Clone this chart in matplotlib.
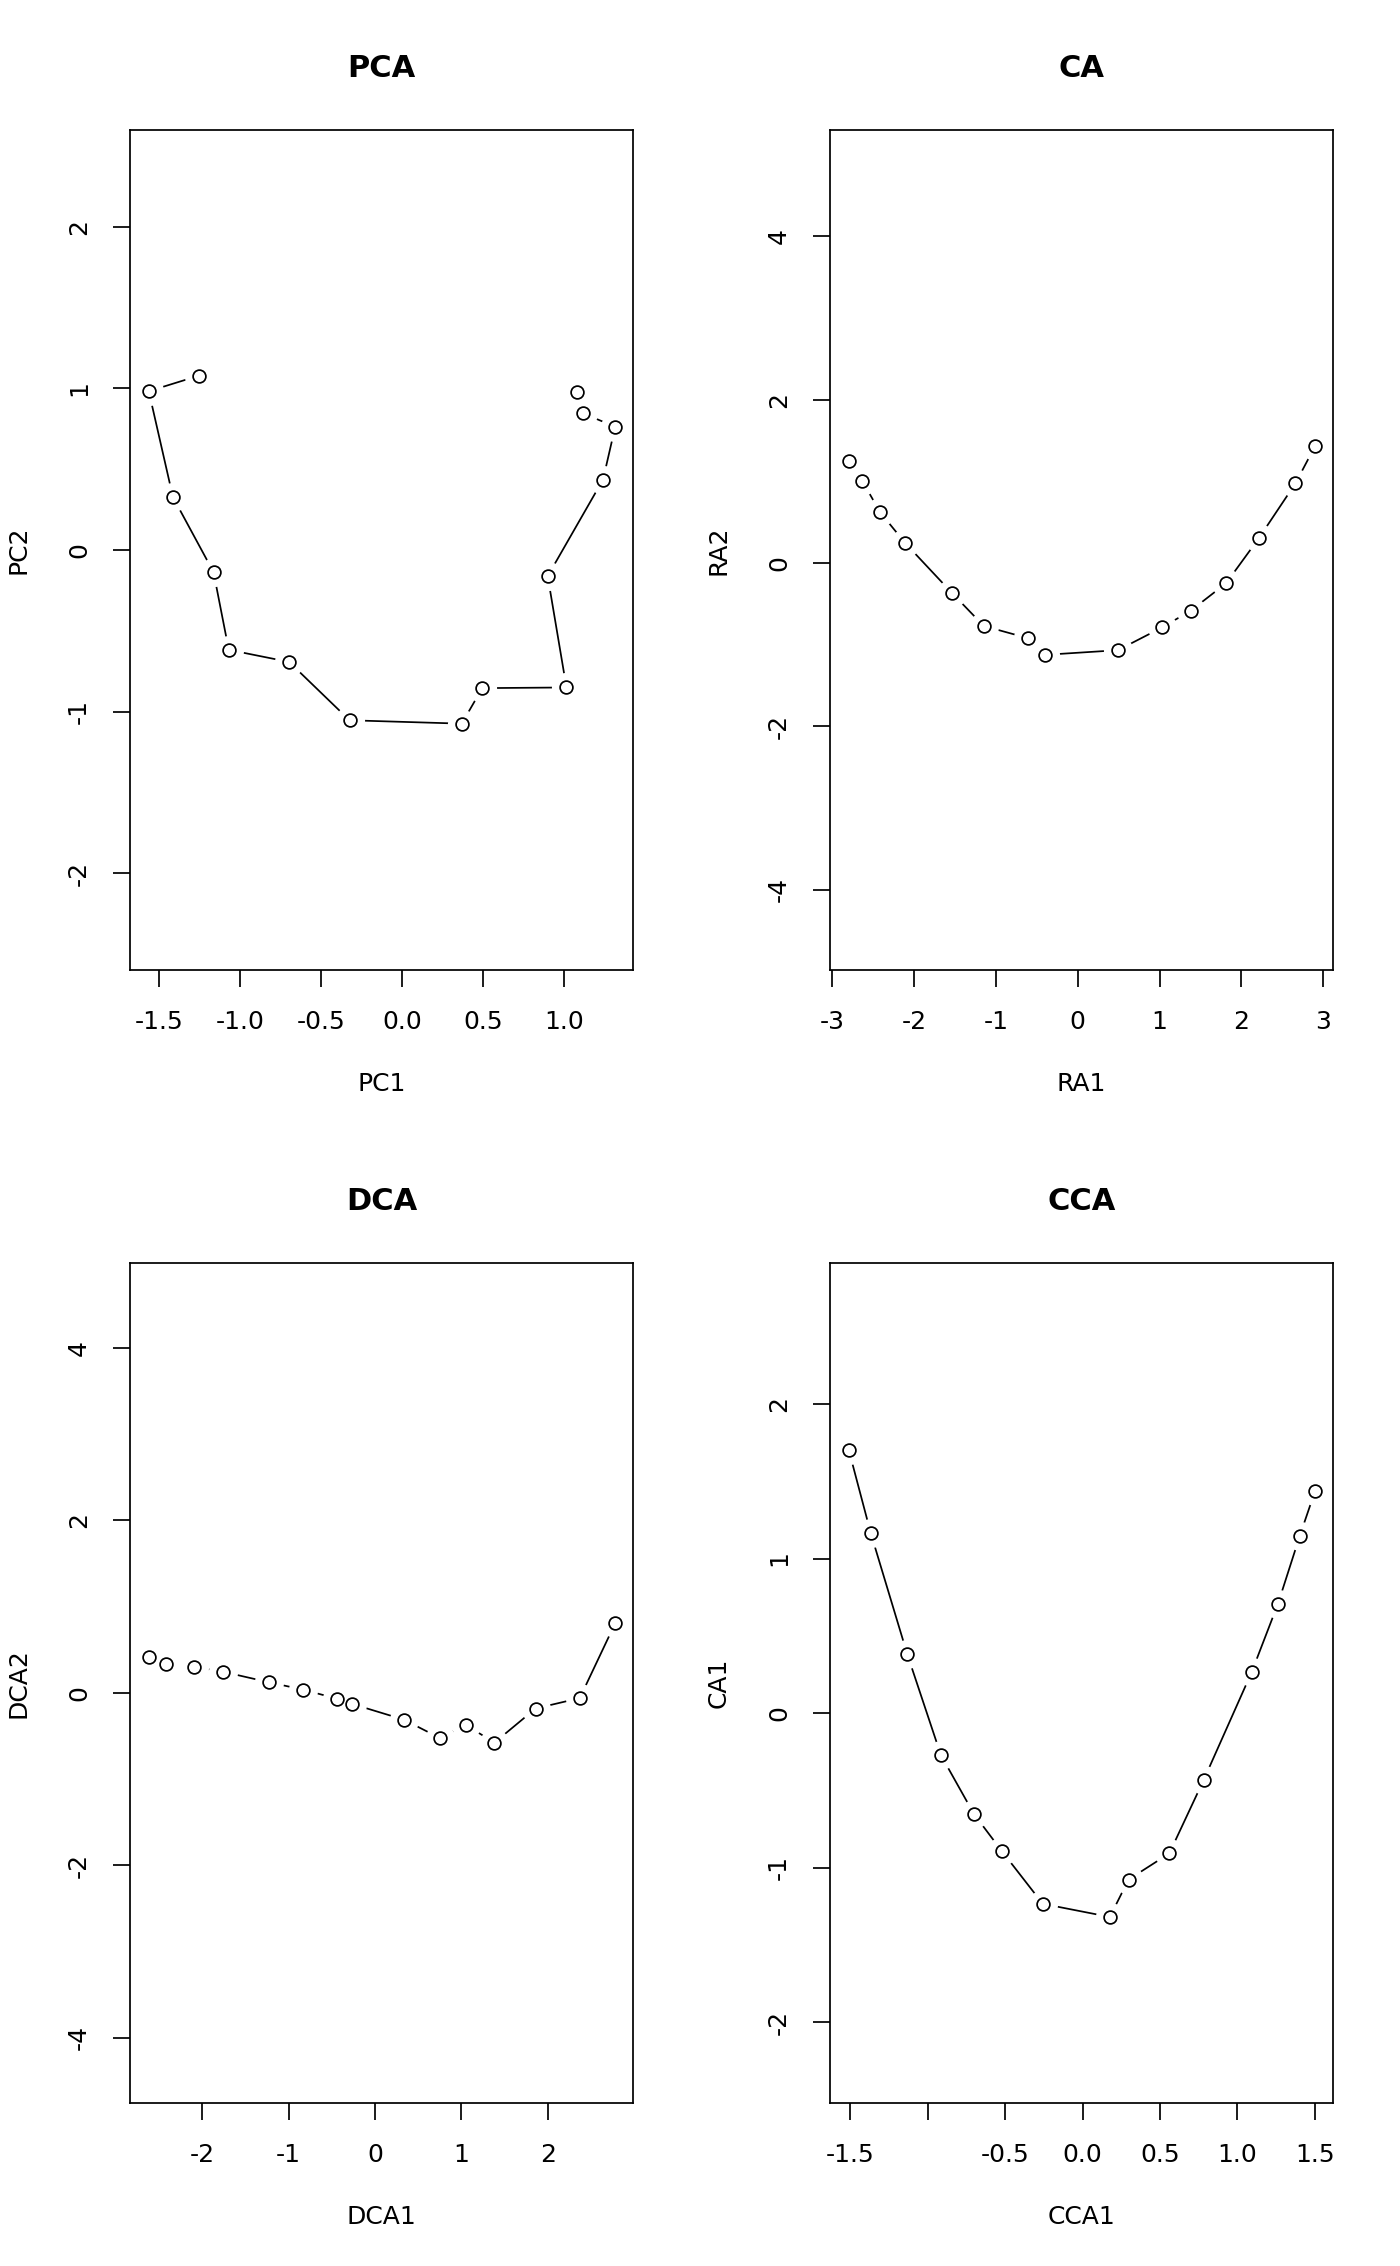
import matplotlib
matplotlib.use("Agg")
import matplotlib.pyplot as plt

plt.rcParams['font.family'] = ['DejaVu Sans']
plt.rcParams['axes.unicode_minus'] = False

# ---- data ----
pca_x = [-1.257, -1.566, -1.417, -1.166, -1.072, -0.699, -0.326, 0.367, 0.494, 1.014, 0.898, 1.240, 1.315, 1.116, 1.080]
pca_y = [1.079, 0.983, 0.328, -0.137, -0.618, -0.693, -1.054, -1.075, -0.855, -0.851, -0.162, 0.436, 0.763, 0.846, 0.979]

ca_x = [-2.798, -2.634, -2.415, -2.109, -1.541, -1.148, -0.612, -0.399, 0.492, 1.033, 1.383, 1.814, 2.213, 2.661, 2.902]
ca_y = [1.246, 1.008, 0.623, 0.246, -0.361, -0.770, -0.918, -1.123, -1.066, -0.787, -0.582, -0.246, 0.303, 0.975, 1.434]

dca_x = [-2.618, -2.417, -2.101, -1.754, -1.226, -0.838, -0.440, -0.264, 0.336, 0.750, 1.050, 1.382, 1.858, 2.370, 2.779]
dca_y = [0.418, 0.334, 0.304, 0.243, 0.122, 0.038, -0.068, -0.129, -0.312, -0.524, -0.372, -0.578, -0.182, -0.061, 0.805]

cca_x = [-1.510, -1.368, -1.132, -0.915, -0.701, -0.520, -0.257, 0.176, 0.297, 0.560, 0.782, 1.091, 1.262, 1.403, 1.501]
cca_y = [1.703, 1.165, 0.381, -0.271, -0.653, -0.894, -1.233, -1.318, -1.076, -0.907, -0.432, 0.263, 0.708, 1.148, 1.436]

titles = ["PCA", "CA", "DCA", "CCA"]
xlabels = ["PC1", "RA1", "DCA1", "CCA1"]
ylabels = ["PC2", "RA2", "DCA2", "CA1"]

pca_xticks = [-1.5, -1.0, -0.5, 0.0, 0.5, 1.0]
pca_xticklabels = ["-1.5", "-1.0", "-0.5", "0.0", "0.5", "1.0"]
pca_yticks = [-2, -1, 0, 1, 2]
pca_yticklabels = ["-2", "-1", "0", "1", "2"]

ca_xticks = [-3, -2, -1, 0, 1, 2, 3]
ca_xticklabels = ["-3", "-2", "-1", "0", "1", "2", "3"]
ca_yticks = [-4, -2, 0, 2, 4]
ca_yticklabels = ["-4", "-2", "0", "2", "4"]

dca_xticks = [-2, -1, 0, 1, 2]
dca_xticklabels = ["-2", "-1", "0", "1", "2"]
dca_yticks = [-4, -2, 0, 2, 4]
dca_yticklabels = ["-4", "-2", "0", "2", "4"]

cca_xticks = [-1.5, -1.0, -0.5, 0.0, 0.5, 1.0, 1.5]
cca_xticklabels = ["-1.5", "", "-0.5", "0.0", "0.5", "1.0", "1.5"]
cca_yticks = [-2, -1, 0, 1, 2]
cca_yticklabels = ["-2", "-1", "0", "1", "2"]

limits = [
    ((-1.682, 1.425), (-2.60, 2.60)),
    ((-3.027, 3.120), (-4.98, 5.30)),
    ((-2.836, 2.986), (-4.757, 4.985)),
    ((-1.631, 1.617), (-2.521, 2.911)),
]

# ---- figure ----
W, H = 1400, 2266
fig = plt.figure(figsize=(W / 100, H / 100), dpi=100)

lefts = [130, 830, 130, 830]
rights = [633, 1333, 633, 1333]
tops = [130, 130, 1263, 1263]
bottoms = [970, 970, 2103, 2103]

datasets = [
    (pca_x, pca_y, pca_xticks, pca_xticklabels, pca_yticks, pca_yticklabels),
    (ca_x, ca_y, ca_xticks, ca_xticklabels, ca_yticks, ca_yticklabels),
    (dca_x, dca_y, dca_xticks, dca_xticklabels, dca_yticks, dca_yticklabels),
    (cca_x, cca_y, cca_xticks, cca_xticklabels, cca_yticks, cca_yticklabels),
]

fs = 18
lw = 1.25
for i, (xs, ys, xt, xtl, yt, ytl) in enumerate(datasets):
    ax = fig.add_axes([lefts[i] / W, 1 - bottoms[i] / H,
                       (rights[i] - lefts[i]) / W, (bottoms[i] - tops[i]) / H])
    ax.plot(xs, ys, '-', color='black', lw=lw, zorder=2)
    ax.plot(xs, ys, 'o', ms=21, mfc='white', mec='white', mew=0, zorder=3)
    ax.plot(xs, ys, 'o', ms=9.2, mfc='none', mec='black', mew=lw, zorder=4)
    ax.set_xlim(*limits[i][0])
    ax.set_ylim(*limits[i][1])
    ax.set_xticks(xt)
    ax.set_xticklabels(xtl)
    ax.set_yticks(yt)
    ax.set_yticklabels(ytl, rotation=90, va='center')
    ax.tick_params(direction='out', length=12, width=lw, labelsize=fs, pad=16)
    ax.tick_params(axis='x', pad=17)
    for s in ax.spines.values():
        s.set_linewidth(lw)
    ax.set_title(titles[i], fontsize=22, fontweight='bold', pad=38)
    ax.set_xlabel(xlabels[i], fontsize=fs, labelpad=27)
    ax.set_ylabel(ylabels[i], fontsize=fs, labelpad=26)

fig.savefig("out.png", dpi=100)
